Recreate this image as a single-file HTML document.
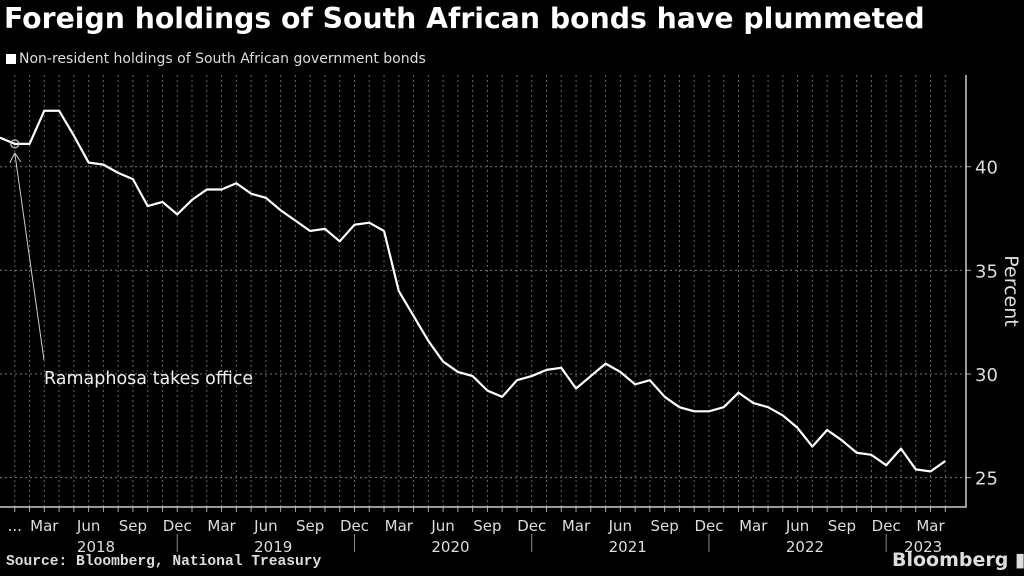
<!DOCTYPE html>
<html><head><meta charset="utf-8">
<style>
body{margin:0;background:#000;width:1024px;height:576px;overflow:hidden;font-family:"DejaVu Sans",sans-serif;color:#fff}
#title{position:absolute;left:4px;top:2px;font-size:28.3px;font-weight:bold;white-space:nowrap}
#sub{position:absolute;left:6px;top:51px;font-size:14px;color:#ddd;white-space:nowrap}
#sub span{display:inline-block;width:10px;height:10px;background:#fff;margin-right:3px;vertical-align:-1px}
#src{position:absolute;left:6px;top:554px;font-size:14.6px;font-weight:bold;color:#ddd;font-family:"Liberation Mono",monospace;white-space:nowrap}
#logo{position:absolute;left:892px;top:549px;font-size:19px;font-weight:bold;color:#ddd;white-space:nowrap}
svg{position:absolute;left:0;top:0}
</style></head><body>
<div id="title">Foreign holdings of South African bonds have plummeted</div>
<div id="sub"><span></span>Non-resident holdings of South African government bonds</div>
<div id="src">Source: Bloomberg, National Treasury</div>
<div id="logo">Bloomberg ▮</div>
<svg id="chart" width="1024" height="576" font-family="DejaVu Sans"></svg>
<script>
const values=[41.4,41.1,41.1,42.7,42.7,41.5,40.2,40.1,39.7,39.4,38.1,38.3,37.7,38.4,38.9,38.9,39.2,38.7,38.5,37.9,37.4,36.9,37.0,36.4,37.2,37.3,36.9,34.0,32.8,31.6,30.6,30.1,29.9,29.2,28.9,29.7,29.9,30.2,30.3,29.3,29.9,30.5,30.1,29.5,29.7,28.9,28.4,28.2,28.2,28.4,29.1,28.6,28.4,28.0,27.4,26.5,27.3,26.8,26.2,26.1,25.6,26.4,25.4,25.3,25.8];
const yTicks=[25,30,35,40];
const monthNames=["Mar","Jun","Sep","Dec"];
const years=["2018","2019","2020","2021","2022","2023"];
const S="http://www.w3.org/2000/svg",svg=document.getElementById('chart');
const x0=0,dx=14.77;
const X=i=>x0+i*dx;
const Y=v=>166.7+(40-v)*20.73;
function el(t,a){const e=document.createElementNS(S,t);for(const k in a)e.setAttribute(k,a[k]);svg.appendChild(e);return e;}
for(let i=1;i<values.length;i++){
 const g=el('line',{x1:X(i),x2:X(i),y1:75,y2:507,stroke:'#666','stroke-dasharray':'2,3','stroke-width':1});
 
 
 const t=el('line',{x1:X(i),x2:X(i),y1:507,y2:512,stroke:'#aaa'});
 
 
}
yTicks.forEach(v=>{
 const g=el('line',{x1:0,x2:966,y1:Y(v),y2:Y(v),stroke:'#777','stroke-dasharray':'2,3'});
 
 
 el('line',{x1:966,x2:971,y1:Y(v),y2:Y(v),stroke:'#aaa'});
 const t=el('text',{x:975,y:Y(v)+7,fill:'#ddd','font-size':18});
 t.textContent=v;
 
 
});
const ax=el('path',{d:'M966,75V507H0',stroke:'#ccc',fill:'none','stroke-width':1.5});


const dots=el('text',{x:X(1),y:531,fill:'#ddd','font-size':15,'text-anchor':'middle'});dots.textContent='...';


for(let i=3;i<values.length;i+=3){
 const t=el('text',{x:X(i),y:531,fill:'#ddd','font-size':15,'text-anchor':'middle'});
 t.textContent=monthNames[((i-3)/3)%4];
 
 
}
years.forEach((yr,k)=>{
 const s=1+12*k,e=Math.min(12+12*k,values.length-1);
 const t=el('text',{x:(X(s)+X(e))/2,y:552,fill:'#ddd','font-size':15,'text-anchor':'middle'});
 t.textContent=yr;
 
 
 if(k<years.length-1){const l=el('line',{x1:X(e),x2:X(e),y1:534,y2:552,stroke:'#888'});
 
 }
});
const p=el('polyline',{points:values.map((v,i)=>X(i)+','+Y(v)).join(' '),fill:'none',stroke:'#fff','stroke-width':2.2,'stroke-linejoin':'round'});


const c=el('circle',{cx:X(1),cy:Y(values[1]),r:4,fill:'none',stroke:'#ccc','stroke-width':1.2});


const a=el('path',{d:`M${X(1)},${Y(values[1])+9} L44,360 M${X(1)},${Y(values[1])+9} l-5,10 M${X(1)},${Y(values[1])+9} l6,9`,stroke:'#ccc',fill:'none','stroke-width':1});


const at=el('text',{x:44,y:384,fill:'#eee','font-size':17.5});at.textContent='Ramaphosa takes office';


const yt=el('text',{x:1005,y:291,fill:'#ddd','font-size':19,'text-anchor':'middle',transform:'rotate(90 1005 291)'});yt.textContent='Percent';


</script>
</body></html>
